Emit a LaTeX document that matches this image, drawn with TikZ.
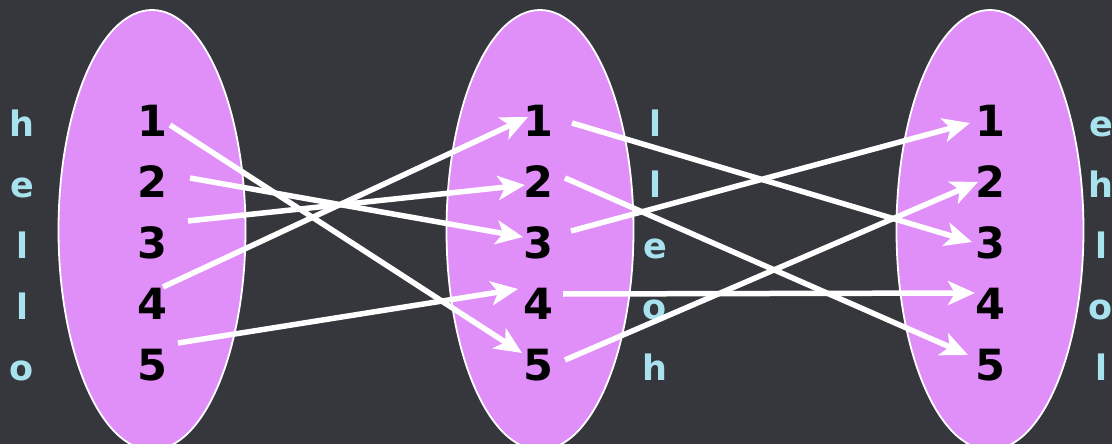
\documentclass[tikz,border=0pt]{standalone}
\usepackage{fontspec}
\setmainfont{DejaVu Sans}
\usetikzlibrary{arrows.meta,shapes.geometric}

\definecolor{board}{HTML}{35373D}
\definecolor{setpink}{HTML}{E08EF8}
\definecolor{chalkblue}{HTML}{A8E2EE}

\begin{document}
\begin{tikzpicture}[
  x=1pt, y=-1pt,
  set/.style={ellipse, draw=white, line width=1.8pt, fill=setpink,
              minimum width=187pt, minimum height=440pt},
  num/.style={font=\fontsize{43}{48}\selectfont\bfseries, text height=32pt,
              text depth=0pt, inner sep=0pt},
  chalk/.style={font=\fontsize{35}{40}\selectfont\bfseries, text=chalkblue,
                anchor=base},
  map/.style={draw=white, line width=5.5pt,
              -{Stealth[length=27pt, width=24pt, inset=7pt]}}
]
  \useasboundingbox (0,0) rectangle (1112,444);
  \fill[board] (0,0) rectangle (1112,444);

  % the three sets
  \node[set] (setL) at (152,230) {};
  \node[set] (setM) at (540,230) {};
  \node[set] (setR) at (990,230) {};

  % elements
  \node[num] (l1) at (152,120) {1};
  \node[num] (l2) at (152,181) {2};
  \node[num] (l3) at (152,242) {3};
  \node[num] (l4) at (152,303) {4};
  \node[num] (l5) at (152,364) {5};

  \node[num] (m1) at (538,120) {1};
  \node[num] (m2) at (538,181) {2};
  \node[num] (m3) at (538,242) {3};
  \node[num] (m4) at (538,303) {4};
  \node[num] (m5) at (538,364) {5};

  \node[num] (r1) at (990,120) {1};
  \node[num] (r2) at (990,181) {2};
  \node[num] (r3) at (990,242) {3};
  \node[num] (r4) at (990,303) {4};
  \node[num] (r5) at (990,364) {5};

  % letters beside the sets
  \node[chalk] (wl1) at (22,136) {h};
  \node[chalk] (wl2) at (22,197) {e};
  \node[chalk] (wl3) at (22,258) {l};
  \node[chalk] (wl4) at (22,319) {l};
  \node[chalk] (wl5) at (22,380) {o};

  \node[chalk] (wm1) at (655,136) {l};
  \node[chalk] (wm2) at (655,197) {l};
  \node[chalk] (wm3) at (655,258) {e};
  \node[chalk] (wm4) at (655,319) {o};
  \node[chalk] (wm5) at (655,380) {h};

  \node[chalk] (wr1) at (1101,136) {e};
  \node[chalk] (wr2) at (1101,197) {h};
  \node[chalk] (wr3) at (1101,258) {l};
  \node[chalk] (wr4) at (1101,319) {o};
  \node[chalk] (wr5) at (1101,380) {l};

  % first permutation
  \draw[map] ([shift={(18,5)}]l1.center)   -- ([shift={(-16,-11)}]m5.center);
  \draw[map] ([shift={(38,-3)}]l2.center)  -- ([shift={(-15,-5)}]m3.center);
  \draw[map] ([shift={(36,-21)}]l3.center) -- ([shift={(-13,4)}]m2.center);
  \draw[map] ([shift={(11,-16)}]l4.center) -- ([shift={(-10,-3)}]m1.center);
  \draw[map] ([shift={(26,-21)}]l5.center) -- ([shift={(-20,-14)}]m4.center);

  % second permutation
  \draw[map] ([shift={(34,3)}]m1.center)   -- ([shift={(-18,0)}]r3.center);
  \draw[map] ([shift={(27,-3)}]m2.center)  -- ([shift={(-22,-9)}]r5.center);
  \draw[map] ([shift={(33,-11)}]m3.center) -- ([shift={(-20,3)}]r1.center);
  \draw[map] ([shift={(25,-9)}]m4.center)  -- ([shift={(-15,-10)}]r4.center);
  \draw[map] ([shift={(27,-4)}]m5.center)  -- ([shift={(-12,1)}]r2.center);
\end{tikzpicture}
\end{document}
